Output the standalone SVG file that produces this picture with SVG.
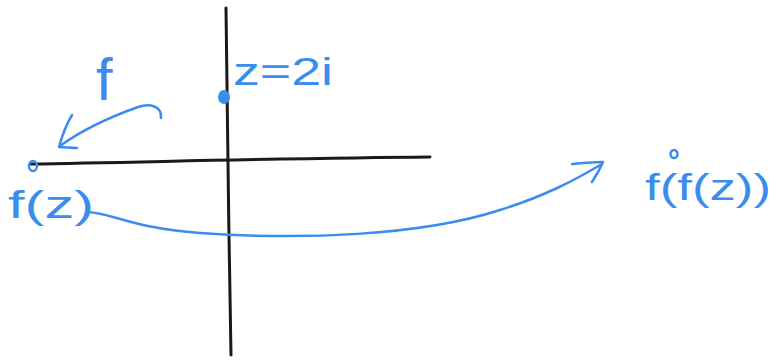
<svg xmlns="http://www.w3.org/2000/svg" width="779" height="360" viewBox="0 0 779 360">
<style>
.ax{fill:none;stroke:#1a1a1a;stroke-width:3;stroke-linecap:round}
.ink{fill:none;stroke:#3b8ded;stroke-width:2.5;stroke-linecap:round;stroke-linejoin:round}
.lbl{font-family:"Liberation Sans",Arial,sans-serif;fill:#3b8ded;font-size:38px}
</style>
<rect width="779" height="360" fill="#ffffff"/>
<g id="axes">
<path class="ax" d="M226 8 C227 120 229 240 231 355"/>
<path class="ax" d="M30 164 C150 162 300 158 430 157"/>
</g>
<g id="point-z">
<ellipse cx="224" cy="97" rx="6" ry="7" fill="#3b8ded"/>
<text class="lbl" x="233" y="85" textLength="100" lengthAdjust="spacingAndGlyphs">z=2i</text>
</g>
<g id="point-fz">
<ellipse cx="33" cy="166" rx="4" ry="5" fill="none" stroke="#3b8ded" stroke-width="2.5"/>
<text class="lbl" x="8" y="218" textLength="86" lengthAdjust="spacingAndGlyphs">f(z)</text>
</g>
<g id="point-ffz">
<ellipse cx="674" cy="154" rx="3.5" ry="4" fill="none" stroke="#3b8ded" stroke-width="2.5"/>
<text class="lbl" x="645" y="200" style="font-size:36px" textLength="126" lengthAdjust="spacingAndGlyphs">f(f(z))</text>
</g>
<g id="connectors">
<path class="ink" d="M161 118 C162 106 150 103 138 107 C110 117 82 130 60 146"/>
<path class="ink" d="M72 115 C66 125 62 136 59 147 C65 147 71 148 77 148"/>
<text class="lbl" x="96" y="100" style="font-size:60px">f</text>
<path class="ink" d="M86 212 C110 212 130 228 200 233 C300 240 420 236 500 210 C545 196 575 180 602 164"/>
<path class="ink" d="M572 164 C583 163 593 162 603 162 C600 169 596 176 592 182"/>
</g>
</svg>
